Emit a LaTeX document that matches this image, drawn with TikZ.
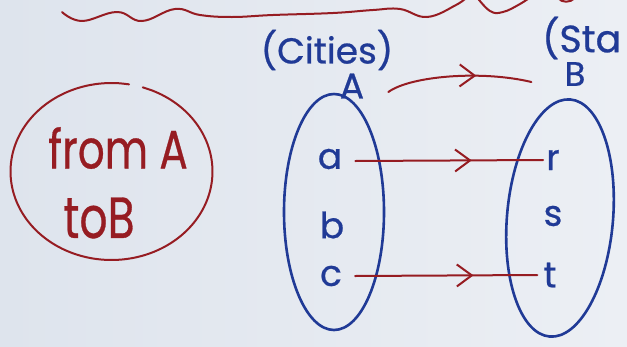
\documentclass[tikz,border=0pt]{standalone}
\usepackage{fontspec}
\setmainfont{Poppins}[FakeBold=0.6]
\usetikzlibrary{shapes.geometric,arrows.meta,decorations.markings}
\definecolor{boardL}{RGB}{222,228,237}
\definecolor{boardR}{RGB}{236,239,244}
\definecolor{ink}{RGB}{32,58,150}
\definecolor{marker}{RGB}{150,28,34}
\begin{document}
\begin{tikzpicture}[x=1pt,y=-1pt,
  blueline/.style={draw=ink,line width=2.6pt,line cap=round},
  redline/.style={draw=marker,line width=2pt,line cap=round,line join=round},
  bluetext/.style={text=ink,inner sep=0pt,font=\fontsize{#1}{#1}\selectfont},
  bluetext/.default=36,
  redtext/.style={text=marker,inner sep=0pt,font=\fontsize{#1}{#1}\selectfont},
  setoval/.style={blueline,ellipse,inner sep=0pt,minimum width=#1},
  midbarb/.style={postaction={decorate},decoration={markings,
    mark=at position #1 with {\arrow[marker,line width=2pt]{Straight Barb[length=15pt,width=22pt]}}}}
]
% board
\shade[left color=boardL,right color=boardR] (0,0) rectangle (627,346);
\useasboundingbox (0,0) rectangle (627,346);
\clip (0,0) rectangle (627,346);

% underline at the top
\draw[redline] plot[smooth,tension=0.7] coordinates {
  (62,12) (82,21) (117,12) (142,21) (175,9) (200,15) (232,17) (273,15)
  (333,13) (373,10) (400,9) (427,17) (456,5) (468,-4)};
\draw[redline] plot[smooth,tension=0.7] coordinates {
  (476,-4) (490,11) (503,12) (520,4) (532,-4)};
\draw[redline] (558,-2) .. controls (562,3) and (570,3) .. (575,-2);

% headings
\node[bluetext=36] (cities) at (327,50) {(Cities)};
\node[bluetext=38,anchor=west] (states) at (542,38) {(Sta};
\node[bluetext=36] (labA) at (352,86) {A};
\node[bluetext=34] (labB) at (575,74) {B};

% the two sets
\node[setoval=100pt,minimum height=236pt] (setA) at (334,212) {};
\node[setoval=106pt,minimum height=238pt,rotate=-5] (setB) at (560,218) {};

% elements
\node[bluetext] (a) at (330,159) {a};
\node[bluetext] (b) at (332,225) {b};
\node[bluetext] (c) at (331,276) {c};
\node[bluetext] (r) at (553,160) {r};
\node[bluetext] (s) at (553,216) {s};
\node[bluetext] (t) at (550,275) {t};

% mapping arrows
\draw[redline,midbarb=0.62] ([xshift=24pt,yshift=-6pt]labA.east)
  .. controls +(22,-16) and +(-50,-12) .. ([xshift=-33pt,yshift=-8pt]labB.west);
\draw[redline,midbarb=0.62] ([xshift=13pt,yshift=-2pt]a.east) -- ([xshift=-3pt]r.west);
\draw[redline,midbarb=0.65] ([xshift=13pt]c.east) -- ([xshift=-6pt]t.west);

% note on the left
\node[redtext=54,xscale=0.78] (from) at (118,148) {from A};
\node[redtext=58,xscale=0.76] (toB) at (99,218) {toB};
\draw[redline] plot[smooth,domain=-72:280,samples=60]
  ({111.5+101*cos(\x)},{171.5+88.5*sin(\x)});
\end{tikzpicture}
\end{document}
